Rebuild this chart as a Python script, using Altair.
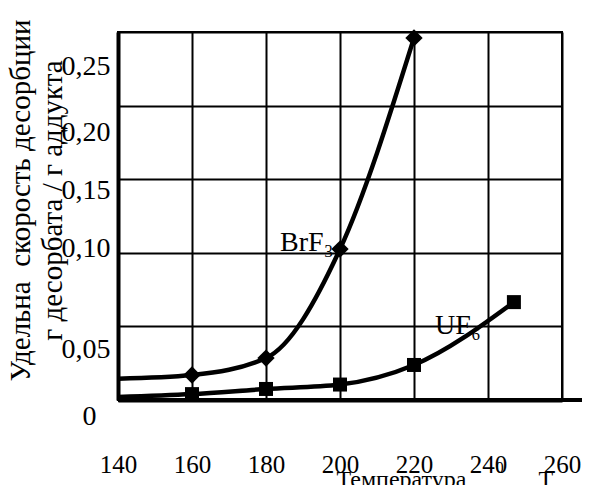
import altair as alt
import pandas as pd

# --- data ---
temp_brf3 = [140, 160, 180, 200, 220]
rate_brf3 = [0.0145, 0.017, 0.0285, 0.1025, 0.246]
mark_brf3 = [False, True, True, True, True]

temp_uf6 = [140, 160, 180, 200, 220, 247]
rate_uf6 = [0.002, 0.004, 0.0075, 0.0105, 0.0238, 0.0665]
mark_uf6 = [False, True, True, True, True, True]

x_ticks = [140, 160, 180, 200, 220, 240, 260]
y_ticks = [0, 0.05, 0.10, 0.15, 0.20, 0.25]

label_text = ["BrF\u2083", "UF\u2086"]
label_temp = [183.8, 225.7]
label_rate = [0.1066, 0.0503]

deg_text = ["0"]
deg_temp = [243.2]
deg_rate = [-0.046]

y_title = ["\u0423\u0434\u0435\u043b\u044c\u043d\u0430\u00a0 \u0441\u043a\u043e\u0440\u043e\u0441\u0442\u044c \u0434\u0435\u0441\u043e\u0440\u0431\u0446\u0438\u0438",
           "\u0433 \u0434\u0435\u0441\u043e\u0440\u0431\u0430\u0442\u0430 / \u0433 \u0430\u0434\u0434\u0443\u043a\u0442\u0430"]
x_title = "\u0422\u0435\u043c\u043f\u0435\u0440\u0430\u0442\u0443\u0440\u0430" + "\u00a0" * 12 + "\u0422"

FONT = "Liberation Serif, Times New Roman, serif"

df_lines = pd.DataFrame({
    "T": temp_brf3 + temp_uf6,
    "v": rate_brf3 + rate_uf6,
    "s": ["BrF3"] * len(temp_brf3) + ["UF6"] * len(temp_uf6),
    "m": mark_brf3 + mark_uf6,
})
df_labels = pd.DataFrame({"t": label_text, "T": label_temp, "v": label_rate})
df_deg = pd.DataFrame({"t": deg_text, "T": deg_temp, "v": deg_rate})

xs = alt.Scale(domain=[140, 260], nice=False, zero=False)
ys = alt.Scale(domain=[0, 0.25], nice=False)

label_offsets = [
    {"test": "datum.value == 0", "value": 16},
    {"test": "abs(datum.value - 0.05) < 0.001", "value": 23},
    {"test": "abs(datum.value - 0.10) < 0.001", "value": -4},
    {"test": "abs(datum.value - 0.15) < 0.001", "value": 11},
    {"test": "abs(datum.value - 0.20) < 0.001", "value": 27},
    {"test": "abs(datum.value - 0.25) < 0.001", "value": 34},
]

x_axis = alt.Axis(
    values=x_ticks, ticks=False, labelFont=FONT, labelFontSize=25, labelColor="black",
    labelPadding=52, labelFlush=False, labelOverlap=False,
    domainColor="black", domainWidth=4, gridColor="black", gridWidth=2,
    gridOpacity=1, title=x_title, titleFont=FONT, titleFontSize=24, titleFontWeight="normal",
    titleColor="black", titleX=218, titleY=86, titleAlign="left", titleBaseline="alphabetic",
)
y_axis = alt.Axis(
    values=y_ticks, ticks=False, labelFont=FONT, labelFontSize=28, labelColor="black",
    labelExpr="datum.value == 0 ? '0' : replace(format(datum.value, '.2f'), '.', ',')",
    labelOffset={"condition": label_offsets, "value": 0},
    labelPadding={"condition": {"test": "datum.value == 0", "value": 22}, "value": 8},
    domainColor="black", domainWidth=4, gridColor="black", gridWidth=2, gridOpacity=1,
    title=y_title, titleFont=FONT, titleFontSize=29, titleFontWeight="normal",
    titleColor="black", titleAngle=-90, titleX=-112, titleY=168, titleAlign="center",
    titleBaseline="top", titleLineHeight=32,
)

base = alt.Chart(df_lines)

lines = base.mark_line(interpolate="monotone", color="black", strokeWidth=4.5).encode(
    x=alt.X("T:Q", scale=xs, axis=x_axis),
    y=alt.Y("v:Q", scale=ys, axis=y_axis),
    detail="s:N",
)

pts = base.transform_filter("datum.m").mark_point(filled=True, color="black", opacity=1).encode(
    x=alt.X("T:Q", scale=xs),
    y=alt.Y("v:Q", scale=ys),
    shape=alt.Shape("s:N", scale=alt.Scale(domain=["BrF3", "UF6"], range=["diamond", "square"]), legend=None),
    size=alt.Size("s:N", scale=alt.Scale(domain=["BrF3", "UF6"], range=[300, 196]), legend=None),
)

labels = alt.Chart(df_labels).mark_text(
    font=FONT, fontSize=28, color="black", align="left", baseline="middle"
).encode(x=alt.X("T:Q", scale=xs), y=alt.Y("v:Q", scale=ys), text="t:N")

deg = alt.Chart(df_deg).mark_text(
    font=FONT, fontSize=16, color="black", align="center", baseline="middle"
).encode(x=alt.X("T:Q", scale=xs), y=alt.Y("v:Q", scale=ys), text="t:N")

ext = alt.Chart(df_labels).mark_rule(color="black", strokeWidth=4).encode(
    x=alt.datum(140), x2=alt.datum(268), y=alt.datum(0)
)

chart = alt.layer(lines, pts, labels, deg, ext).properties(
    width=444, height=368,
    autosize=alt.AutoSizeParams(type="none"),
    padding={"left": 110, "top": 24, "right": 20, "bottom": 85},
    background="white",
).configure_view(stroke="black", strokeWidth=2)

chart.save("out.html", embed_options={"renderer": "svg", "actions": False})
